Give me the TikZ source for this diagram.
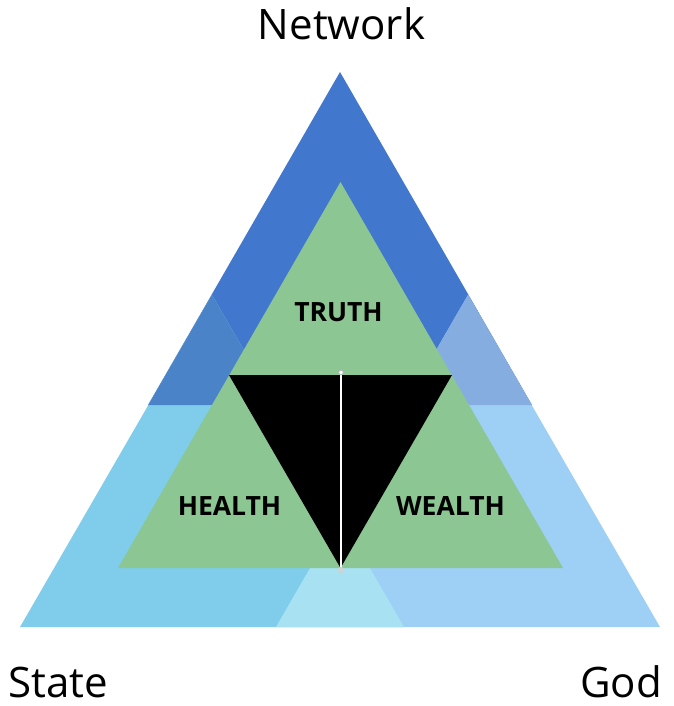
\documentclass[tikz,border=0pt]{standalone}
\usepackage{fontspec}
\setmainfont{Open Sans}
\definecolor{netc}{HTML}{4177CC}
\definecolor{statec}{HTML}{7FCDEB}
\definecolor{godc}{HTML}{9ED0F5}
\definecolor{nsc}{HTML}{4A83C7}
\definecolor{ngc}{HTML}{86ADE0}
\definecolor{sgc}{HTML}{A8E1F1}
\definecolor{greenc}{HTML}{8CC693}
\tikzset{
  corner/.style={text=black, anchor=base, font=\fontsize{42}{48}\selectfont},
  inlabel/.style={text=black, anchor=base, font=\fontsize{26.5}{30}\selectfont\bfseries},
}
\begin{document}
\begin{tikzpicture}[x=1pt,y=-1pt]
\useasboundingbox (0,0) rectangle (673,706);
\def\NetTri{(340,72) -- (148,405) -- (532,405) -- cycle}
\def\StateTri{(20,627) -- (212,295) -- (404,627) -- cycle}
\def\GodTri{(660,627) -- (468,295) -- (276,627) -- cycle}
\fill[netc] \NetTri;
\fill[statec] \StateTri;
\fill[godc] \GodTri;
\begin{scope}\clip \NetTri; \fill[nsc] \StateTri; \end{scope}
\begin{scope}\clip \NetTri; \fill[ngc] \GodTri; \end{scope}
\begin{scope}\clip \StateTri; \fill[sgc] \GodTri; \end{scope}
% inner triangles
\fill[greenc] (340.5,182) -- (118,568) -- (563,568) -- cycle;
\fill[black] (229,375) -- (452,375) -- (340.5,568) -- cycle;
% white line with handles
\coordinate (ltop) at (341,372.5);
\coordinate (lbot) at (341,570);
\draw[white, line width=1.3pt] (ltop) -- (lbot);
\draw[draw=gray!60, fill=white, line width=0.8pt] (ltop) circle (2.3);
\fill[gray!35] (lbot) circle (3);
% labels
\node[corner] (network) at (341.5,40) {Network};
\node[corner] (state) at (58.5,697) {State};
\node[corner] (god) at (621,697) {God};
\node[inlabel] (truth) at (338.5,321) {TRUTH};
\node[inlabel] (health) at (229.5,515) {HEALTH};
\node[inlabel] (wealth) at (450.5,515) {WEALTH};
\end{tikzpicture}
\end{document}
